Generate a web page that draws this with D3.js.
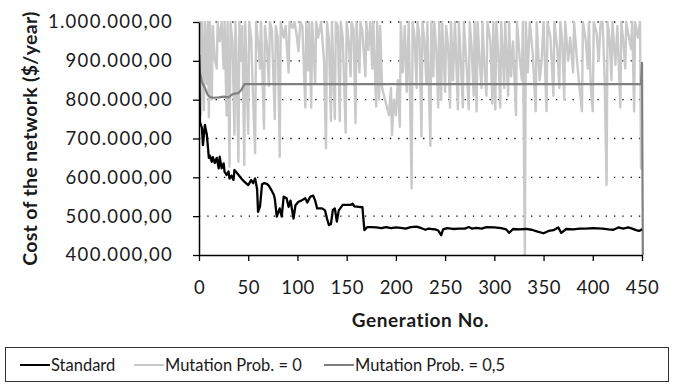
<!DOCTYPE html>
<html>
<head>
<meta charset="utf-8">
<script src="https://cdn.jsdelivr.net/npm/d3@7"></script>
<style>
    body { margin: 0; background: #fff; }
    svg { display: block; }
</style>
</head>
<body>
<div id="chart"></div>
<script>

// ---- data ----
let seriesNames = ["Standard", "Mutation Prob. = 0", "Mutation Prob. = 0,5"];
let xTicks = [0, 50, 100, 150, 200, 250, 300, 350, 400, 450];
let yTicks = [400000, 500000, 600000, 700000, 800000, 900000, 1000000];

let standardGen = [0, 1, 3, 4, 6, 8, 10, 11, 13, 14, 16, 18, 20, 21, 23, 25, 26, 28, 30, 31, 33, 35, 36, 39, 43, 46, 50, 53, 55, 57, 59, 60, 62, 64, 66, 69, 71, 74, 76, 77, 79, 82, 84, 86, 89, 91, 93, 96, 98, 101, 104, 108, 110, 113, 116, 118, 120, 125, 128, 130, 132, 134, 136, 138, 140, 142, 146, 150, 154, 156, 158, 162, 166, 168, 171, 175, 180, 185, 190, 195, 200, 205, 210, 215, 221, 226, 230, 233, 236, 240, 243, 246, 248, 252, 258, 264, 270, 274, 277, 282, 287, 292, 300, 307, 312, 315, 319, 325, 332, 338, 344, 350, 355, 360, 365, 368, 373, 380, 387, 393, 400, 410, 416, 421, 426, 431, 436, 440, 444, 447, 450];
let standardCost = [915000, 742000, 727000, 683000, 735000, 709000, 650000, 656000, 640000, 652000, 637000, 650000, 623000, 653000, 623000, 636000, 614000, 606000, 615000, 597000, 604000, 593000, 619000, 610000, 597000, 589000, 580000, 593000, 585000, 597000, 570000, 511000, 525000, 582000, 585000, 583000, 578000, 565000, 555000, 545000, 499000, 520000, 499000, 550000, 546000, 524000, 540000, 494000, 528000, 537000, 540000, 546000, 535000, 550000, 553000, 540000, 520000, 520000, 515000, 494000, 477000, 480000, 516000, 520000, 486000, 515000, 529000, 529000, 529000, 532000, 525000, 524000, 523000, 464000, 472000, 472000, 471000, 469000, 472000, 469000, 471000, 470000, 468000, 472000, 473000, 469000, 465000, 468000, 467000, 466000, 463000, 451000, 466000, 469000, 467000, 468000, 468000, 472000, 468000, 470000, 468000, 472000, 471000, 469000, 466000, 457000, 467000, 466000, 467000, 465000, 460000, 456000, 462000, 464000, 471000, 457000, 467000, 466000, 468000, 468000, 469000, 468000, 466000, 465000, 471000, 468000, 471000, 468000, 464000, 462000, 466000];

let mut0Gen = [0, 1, 2, 3, 5, 6, 8, 9, 10, 11, 13, 14, 16, 18, 19, 21, 23, 25, 26, 28, 29, 31, 32, 34, 36, 37, 38, 40, 41, 43, 44, 46, 47, 50, 51, 53, 55, 57, 58, 60, 62, 63, 66, 67, 69, 71, 72, 74, 77, 78, 80, 82, 83, 86, 88, 91, 92, 95, 97, 99, 101, 103, 105, 108, 109, 111, 112, 114, 115, 118, 119, 121, 124, 127, 129, 130, 132, 134, 135, 138, 139, 141, 143, 144, 146, 149, 150, 152, 154, 155, 157, 159, 160, 163, 164, 166, 169, 170, 172, 174, 176, 177, 180, 181, 183, 184, 186, 189, 191, 193, 195, 196, 198, 200, 202, 204, 205, 207, 209, 211, 213, 216, 217, 219, 221, 222, 224, 226, 227, 229, 231, 232, 235, 236, 238, 239, 241, 243, 244, 246, 247, 250, 251, 253, 255, 256, 258, 260, 263, 264, 266, 268, 269, 272, 274, 275, 277, 279, 280, 282, 283, 285, 287, 288, 290, 292, 293, 296, 298, 299, 301, 302, 304, 306, 307, 310, 311, 314, 315, 317, 319, 322, 323, 326, 328, 329, 331, 332, 334, 336, 339, 342, 343, 346, 348, 350, 353, 354, 357, 360, 361, 364, 366, 367, 369, 371, 372, 375, 377, 380, 381, 384, 386, 389, 390, 393, 395, 396, 398, 400, 401, 404, 406, 408, 410, 412, 414, 415, 417, 419, 420, 423, 425, 428, 429, 431, 433, 434, 436, 439, 440, 442, 443, 445, 446, 448, 449, 450];
let mut0Cost = [920000, 1000000, 760000, 1000000, 773000, 1000000, 840000, 1000000, 755000, 1000000, 800000, 990000, 905000, 880000, 1000000, 950000, 1000000, 880000, 1000000, 760000, 1000000, 627000, 1000000, 950000, 710000, 1000000, 920000, 640000, 1000000, 900000, 990000, 632000, 1000000, 712000, 1000000, 960000, 800000, 662000, 1000000, 950000, 880000, 1000000, 725000, 990000, 940000, 835000, 1000000, 980000, 750000, 990000, 960000, 653000, 1000000, 960000, 990000, 870000, 1000000, 985000, 1000000, 970000, 925000, 1000000, 990000, 780000, 1000000, 875000, 1000000, 780000, 1000000, 840000, 1000000, 960000, 1000000, 900000, 675000, 1000000, 950000, 745000, 1000000, 750000, 1000000, 990000, 745000, 1000000, 960000, 715000, 1000000, 950000, 860000, 1000000, 980000, 740000, 1000000, 870000, 1000000, 975000, 860000, 1000000, 928000, 1000000, 880000, 1000000, 782000, 1000000, 800000, 990000, 830000, 800000, 780000, 760000, 830000, 709000, 800000, 760000, 850000, 730000, 1000000, 870000, 990000, 820000, 1000000, 572000, 1000000, 960000, 830000, 1000000, 960000, 705000, 1000000, 950000, 840000, 1000000, 681000, 1000000, 860000, 1000000, 930000, 780000, 1000000, 800000, 1000000, 820000, 990000, 940000, 780000, 1000000, 850000, 1000000, 775000, 1000000, 900000, 780000, 1000000, 880000, 775000, 1000000, 930000, 810000, 1000000, 770000, 1000000, 900000, 830000, 1000000, 880000, 810000, 1000000, 950000, 790000, 1000000, 775000, 1000000, 920000, 780000, 1000000, 830000, 1000000, 810000, 1000000, 860000, 950000, 760000, 1000000, 900000, 850000, 1000000, 395000, 1000000, 870000, 1000000, 920000, 770000, 1000000, 850000, 900000, 1000000, 770000, 1000000, 960000, 810000, 1000000, 930000, 830000, 1000000, 950000, 800000, 1000000, 900000, 960000, 870000, 1000000, 900000, 846000, 770000, 1000000, 950000, 880000, 1000000, 830000, 770000, 1000000, 970000, 900000, 1000000, 1000000, 860000, 580000, 1000000, 960000, 850000, 1000000, 890000, 990000, 780000, 1000000, 950000, 880000, 1000000, 970000, 930000, 1000000, 770000, 1000000, 970000, 960000, 1000000, 623000, 620000];

let mut05Gen = [0, 1, 3, 6, 9, 12, 15, 20, 25, 30, 33, 35, 40, 43, 46, 449, 450, 451];
let mut05Cost = [915000, 870000, 845000, 830000, 812000, 806000, 805000, 806000, 808000, 806000, 812000, 815000, 817000, 825000, 840000, 840000, 895000, 300000];

// ---- chart ----
let width = 674, height = 386;
let margin = {top: 22, right: 32, bottom: 131, left: 199};
let plotW = width - margin.left - margin.right;
let plotH = height - margin.top - margin.bottom;

let locale = d3.formatLocale({decimal: ",", thousands: ".", grouping: [3], currency: ["$", ""]});
let fmt = locale.format(",.2f");

let svg = d3.select("#chart")
    .append("svg")
    .attr("width", width)
    .attr("height", height);

let g = svg.append("g")
    .attr("transform", `translate(${margin.left},${margin.top})`);

let x = d3.scaleLinear().domain([0, 450]).range([0, plotW]);
let y = d3.scaleLinear().domain([400000, 1000000]).range([plotH, 0]);

// dotted gridlines
g.selectAll(".grid")
    .data(yTicks.filter(d => d > 400000))
    .enter().append("line")
    .attr("class", "grid")
    .attr("x1", 0)
    .attr("x2", plotW)
    .attr("y1", d => y(d))
    .attr("y2", d => y(d))
    .attr("stroke", "#000")
    .attr("stroke-width", 1.3)
    .attr("stroke-dasharray", "1.3,7");

// clip for the series
svg.append("defs").append("clipPath")
    .attr("id", "plotClip")
    .append("rect")
    .attr("x", 0)
    .attr("y", -4)
    .attr("width", plotW + 2)
    .attr("height", plotH + 4);

let line = d3.line()
    .x(d => x(d[0]))
    .y(d => y(d[1]));

let series = [
    {name: seriesNames[1], gen: mut0Gen, cost: mut0Cost, color: "#c9c9c9", w: 2.4},
    {name: seriesNames[2], gen: mut05Gen, cost: mut05Cost, color: "#808080", w: 2.2},
    {name: seriesNames[0], gen: standardGen, cost: standardCost, color: "#000", w: 2.3}
];

let lines = g.append("g").attr("clip-path", "url(#plotClip)");
series.forEach(s => {
    lines.append("path")
        .datum(s.gen.map((d, i) => [d, s.cost[i]]))
        .attr("fill", "none")
        .attr("stroke", s.color)
        .attr("stroke-width", s.w)
        .attr("stroke-linejoin", "round")
        .attr("d", line);
});

// axes
let yAxis = d3.axisLeft(y).tickValues(yTicks).tickSize(6).tickSizeOuter(0).tickFormat(fmt);
let xAxis = d3.axisBottom(x).tickValues(xTicks).tickSize(6).tickSizeOuter(0);

let ya = g.append("g").call(yAxis);
ya.select(".domain").attr("stroke-width", 1.5);
ya.selectAll(".tick line").attr("stroke-width", 1.3);
ya.selectAll("text")
    .attr("x", -26)
    .attr("font-family", "Lato, sans-serif")
    .attr("font-size", "18.5px")
    .attr("letter-spacing", "1.3px")
    .attr("fill", "#1a1a1a");

let xa = g.append("g").attr("transform", `translate(0,${plotH})`).call(xAxis);
xa.select(".domain").attr("stroke-width", 1.5);
xa.selectAll(".tick line").attr("stroke-width", 1.3);
xa.selectAll("text")
    .attr("y", 26)
    .attr("font-family", "Lato, sans-serif")
    .attr("font-size", "18.5px")
    .attr("letter-spacing", "0.4px")
    .attr("fill", "#1a1a1a");

// axis titles
svg.append("text")
    .text("Generation No.")
    .attr("x", margin.left + plotW / 2)
    .attr("y", 327)
    .attr("text-anchor", "middle")
    .attr("font-family", "Lato, sans-serif")
    .attr("font-weight", "bold")
    .attr("font-size", "19px")
    .attr("letter-spacing", "0.6px")
    .attr("fill", "#1a1a1a");

svg.append("text")
    .text("Cost of the network ($/year)")
    .attr("transform", `translate(37,${margin.top + plotH / 2}) rotate(-90)`)
    .attr("text-anchor", "middle")
    .attr("font-family", "Lato, sans-serif")
    .attr("font-weight", "bold")
    .attr("font-size", "19.5px")
    .attr("letter-spacing", "0.3px")
    .attr("fill", "#1a1a1a");

// legend
let legend = svg.append("g");
legend.append("rect")
    .attr("x", 5.5)
    .attr("y", 347.5)
    .attr("width", 663)
    .attr("height", 34)
    .attr("fill", "#fff")
    .attr("stroke", "#333")
    .attr("stroke-width", 1);

let legendItems = [
    {name: seriesNames[0], color: "#000", x: 20},
    {name: seriesNames[1], color: "#c9c9c9", x: 134},
    {name: seriesNames[2], color: "#808080", x: 324}
];
legendItems.forEach(d => {
    legend.append("line")
        .attr("x1", d.x)
        .attr("x2", d.x + 30)
        .attr("y1", 365)
        .attr("y2", 365)
        .attr("stroke", d.color)
        .attr("stroke-width", 2);
    legend.append("text")
        .text(d.name)
        .attr("x", d.x + 31)
        .attr("y", 371)
        .attr("font-family", "Lato, sans-serif")
        .attr("font-size", "16.5px")
        .attr("fill", "#1a1a1a");
});

</script>
</body>
</html>
